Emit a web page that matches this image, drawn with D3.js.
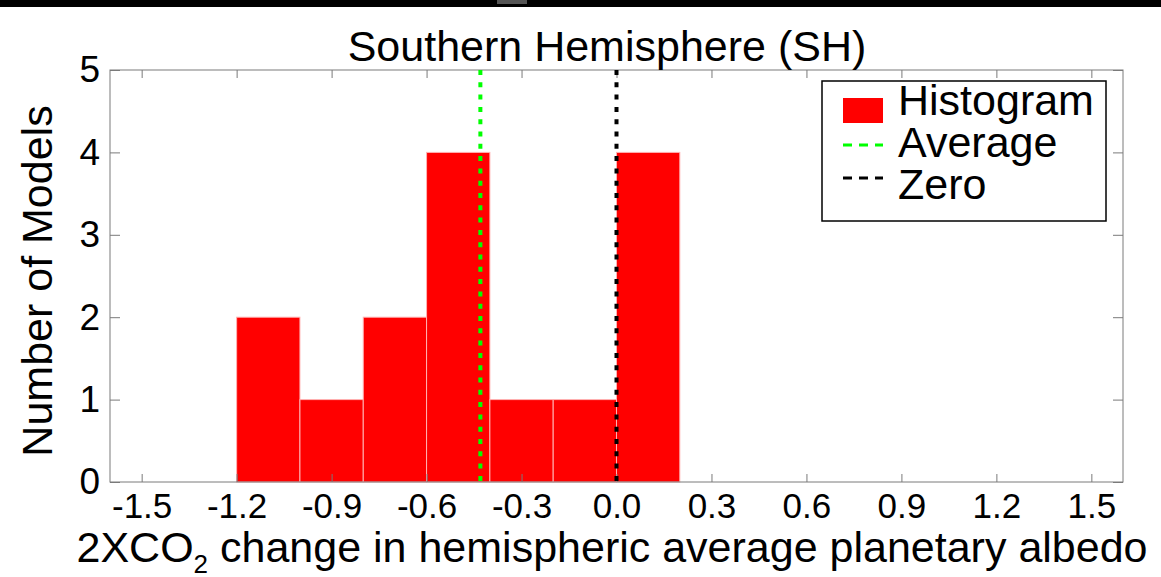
<!DOCTYPE html>
<html>
<head>
<meta charset="utf-8">
<script src="https://cdn.jsdelivr.net/npm/d3@7"></script>
<style>
  html, body { margin: 0; padding: 0; background: #fff; }
  svg { display: block; font-family: "Liberation Sans", Arial, Helvetica, sans-serif; }
</style>
</head>
<body>
<svg id="chart" width="1161" height="577"></svg>
<script>
// Histogram bins of the 2xCO2 change (bin edges) and model counts per bin
const binEdges = [-1.2, -1.0, -0.8, -0.6, -0.4, -0.2, 0.0, 0.2];
const binCounts = [2, 1, 2, 4, 1, 1, 4];
// Reference lines: multi-model average and zero
const averageValue = -0.43;
const zeroValue = 0.0;
// Axis ticks
const xTicks = [-1.5, -1.2, -0.9, -0.6, -0.3, 0.0, 0.3, 0.6, 0.9, 1.2, 1.5];
const yTicks = [0, 1, 2, 3, 4, 5];
const xDomain = [-1.6, 1.6];
const yDomain = [0, 5];
// Legend entries
const legendLabels = ["Histogram", "Average", "Zero"];

const svg = d3.select("#chart");
const W = 1161, H = 577;
const plot = { left: 110, right: 1123, top: 70, bottom: 482 };

const x = d3.scaleLinear().domain(xDomain).range([plot.left, plot.right]);
const y = d3.scaleLinear().domain(yDomain).range([plot.bottom, plot.top]);

// dark strip along the top edge of the figure window
svg.append("rect").attr("x", 0).attr("y", 0).attr("width", W).attr("height", 7).attr("fill", "#000");
svg.append("rect").attr("x", 497).attr("y", 0).attr("width", 30).attr("height", 4).attr("fill", "#555");

// histogram bars
const bins = binCounts.map((c, i) => ({ x0: binEdges[i], x1: binEdges[i + 1], count: c }));
svg.append("g").selectAll("rect").data(bins).join("rect")
  .attr("x", d => x(d.x0))
  .attr("y", d => y(d.count))
  .attr("width", d => x(d.x1) - x(d.x0))
  .attr("height", d => y(0) - y(d.count))
  .attr("fill", "#ff0000")
  .attr("stroke", "#ffb3b3")
  .attr("stroke-width", 1);

// axes box with inward ticks on all four sides
const axisColor = "#7a7a7a";
const tickFmt = d => d.toFixed(1);

const gBottom = svg.append("g").attr("transform", `translate(0,${plot.bottom})`)
  .call(d3.axisBottom(x).tickValues(xTicks).tickFormat(tickFmt).tickSizeInner(-8).tickSizeOuter(0).tickPadding(11));
const gTop = svg.append("g").attr("transform", `translate(0,${plot.top})`)
  .call(d3.axisTop(x).tickValues(xTicks).tickFormat("").tickSizeInner(-8).tickSizeOuter(0));
const gLeft = svg.append("g").attr("transform", `translate(${plot.left},0)`)
  .call(d3.axisLeft(y).tickValues(yTicks).tickFormat(d3.format("d")).tickSizeInner(-10).tickSizeOuter(0).tickPadding(10));
const gRight = svg.append("g").attr("transform", `translate(${plot.right},0)`)
  .call(d3.axisRight(y).tickValues(yTicks).tickFormat("").tickSizeInner(-10).tickSizeOuter(0));

[gBottom, gTop, gLeft, gRight].forEach(g => {
  g.select(".domain").remove();
  g.selectAll(".tick line").attr("stroke", axisColor).attr("stroke-width", 1);
  g.selectAll(".tick text").attr("fill", "#000").attr("font-size", 35)
    .attr("font-family", "'Liberation Sans', Arial, sans-serif");
});
gBottom.selectAll(".tick text").attr("dy", "0.71em");
gLeft.selectAll(".tick text").attr("font-size", 37);

svg.append("rect")
  .attr("x", plot.left).attr("y", plot.top)
  .attr("width", plot.right - plot.left).attr("height", plot.bottom - plot.top)
  .attr("fill", "none").attr("stroke", axisColor).attr("stroke-width", 1);

// reference lines
function vline(v, color) {
  svg.append("line")
    .attr("x1", x(v)).attr("x2", x(v))
    .attr("y1", y(yDomain[1])).attr("y2", y(0))
    .attr("stroke", color).attr("stroke-width", 4)
    .attr("stroke-dasharray", "5,7.3");
}
vline(averageValue, "#00ff00");
vline(zeroValue, "#000000");

// title and axis labels
svg.append("text").attr("x", 607).attr("y", 61).attr("text-anchor", "middle")
  .attr("font-size", 43).text("Southern Hemisphere (SH)");

const xl = svg.append("text").attr("x", 612).attr("y", 562).attr("text-anchor", "middle").attr("font-size", 43);
xl.append("tspan").text("2XCO");
xl.append("tspan").attr("font-size", 26).attr("dy", 11).text("2");
xl.append("tspan").attr("dy", -11).text(" change in hemispheric average planetary albedo");

svg.append("text").attr("transform", `translate(52,281) rotate(-90)`).attr("text-anchor", "middle")
  .attr("font-size", 43).text("Number of Models");

// legend
const lg = svg.append("g");
lg.append("rect").attr("x", 822).attr("y", 81).attr("width", 284).attr("height", 140)
  .attr("fill", "#fff").attr("stroke", "#000").attr("stroke-width", 1.5);
lg.append("rect").attr("x", 843).attr("y", 98).attr("width", 40).attr("height", 25).attr("fill", "#ff0000");
lg.append("line").attr("x1", 843).attr("x2", 883).attr("y1", 145).attr("y2", 145)
  .attr("stroke", "#00ff00").attr("stroke-width", 3).attr("stroke-dasharray", "9,7");
lg.append("line").attr("x1", 843).attr("x2", 883).attr("y1", 178).attr("y2", 178)
  .attr("stroke", "#000").attr("stroke-width", 3).attr("stroke-dasharray", "9,7");
const legendBaselines = [115, 157, 199];
lg.selectAll("text.lab").data(legendLabels).join("text").attr("class", "lab")
  .attr("x", 898).attr("y", (d, i) => legendBaselines[i])
  .attr("font-size", 43).text(d => d);
</script>
</body>
</html>
